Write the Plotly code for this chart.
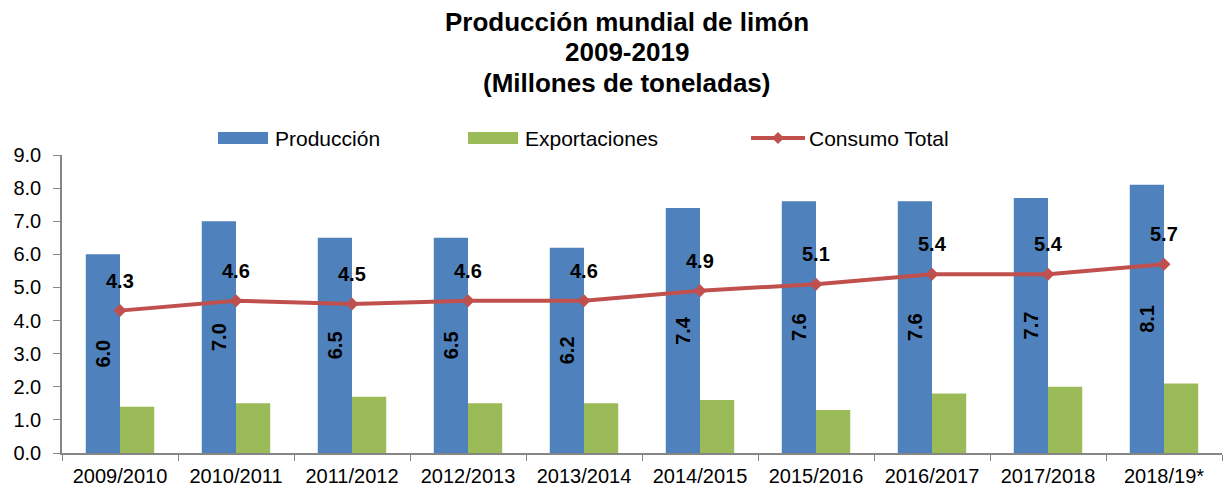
import plotly.graph_objects as go

categories = ["2009/2010", "2010/2011", "2011/2012", "2012/2013", "2013/2014",
              "2014/2015", "2015/2016", "2016/2017", "2017/2018", "2018/19*"]
produccion = [6.0, 7.0, 6.5, 6.5, 6.2, 7.4, 7.6, 7.6, 7.7, 8.1]
exportaciones = [1.4, 1.5, 1.7, 1.5, 1.5, 1.6, 1.3, 1.8, 2.0, 2.1]
consumo = [4.3, 4.6, 4.5, 4.6, 4.6, 4.9, 5.1, 5.4, 5.4, 5.7]
y_ticks = [0, 1, 2, 3, 4, 5, 6, 7, 8, 9]
title_lines = ["Producción mundial de limón", "2009-2019", "(Millones de toneladas)"]

FONT = "Liberation Sans, Arial, sans-serif"
BLUE, GREEN, RED = "#4F81BD", "#9BBB59", "#C0504D"

W, H = 1229, 488
L, R, T, B = 62, 7, 155, 35
PW, PH = W - L - R, H - T - B


def px(x):
    return (x - L) / PW


def py(y):
    return (H - B - y) / PH


fig = go.Figure()
fig.add_trace(go.Bar(
    x=categories, y=produccion, name="Producción",
    marker=dict(color=BLUE, line=dict(width=0)),
    text=[f"{v:.1f}" for v in produccion], textposition="inside",
    textangle=-90, insidetextanchor="middle",
    textfont=dict(family=FONT, size=20, color="black", weight="bold"),
))
fig.add_trace(go.Bar(
    x=categories, y=exportaciones, name="Exportaciones",
    marker=dict(color=GREEN, line=dict(width=0)),
))
fig.add_trace(go.Scatter(
    x=categories, y=consumo, name="Consumo Total", mode="lines+markers",
    line=dict(color=RED, width=4),
    marker=dict(symbol="diamond", size=10, color=RED),
))
for c, v in zip(categories, consumo):
    fig.add_annotation(x=c, y=v, text=f"<b>{v:.1f}</b>", showarrow=False,
                       yshift=30, font=dict(family=FONT, size=20, color="black"))

# Title (three lines)
for line, yc in zip(title_lines, [22, 52.5, 83]):
    fig.add_annotation(
        xref="paper", yref="paper", x=px(627), y=py(yc), xanchor="center", yanchor="middle",
        text=f"<b>{line}</b>", showarrow=False,
        font=dict(family=FONT, size=26, color="black"),
    )

# Legend (drawn manually to mimic long swatches)
legend_y = 138
for (x0, color, label) in [(218, BLUE, "Producción"), (468, GREEN, "Exportaciones")]:
    fig.add_shape(type="rect", xref="paper", yref="paper",
                  x0=px(x0), x1=px(x0 + 50), y0=py(legend_y + 6), y1=py(legend_y - 6),
                  fillcolor=color, line=dict(width=0))
    fig.add_annotation(xref="paper", yref="paper", x=px(x0 + 55), y=py(legend_y),
                       xanchor="left", yanchor="middle", text=label, showarrow=False,
                       font=dict(family=FONT, size=21, color="black"))
fig.add_shape(type="line", xref="paper", yref="paper",
              x0=px(751), x1=px(805), y0=py(legend_y), y1=py(legend_y),
              line=dict(color=RED, width=4))
fig.add_shape(type="path", xref="paper", yref="paper",
              path=f"M {px(772)} {py(legend_y)} L {px(778)} {py(legend_y - 6)} "
                   f"L {px(784)} {py(legend_y)} L {px(778)} {py(legend_y + 6)} Z",
              fillcolor=RED, line=dict(width=0))
fig.add_annotation(xref="paper", yref="paper", x=px(807), y=py(legend_y),
                   xanchor="left", yanchor="middle", text="Consumo Total", showarrow=False,
                   font=dict(family=FONT, size=21, color="black"))

fig.update_layout(
    width=W, height=H,
    paper_bgcolor="white", plot_bgcolor="white",
    margin=dict(l=L, r=R, t=T, b=B, autoexpand=False),
    barmode="group", bargap=0.41, bargroupgap=0,
    font=dict(family=FONT, size=19, color="black"),
    showlegend=False,
)
fig.update_xaxes(
    range=[-0.5, 9.5], automargin=False,
    showline=True, linecolor="#868686", linewidth=1.5,
    ticks="outside", tickson="boundaries", ticklen=6, tickcolor="#868686",
    ticklabelstandoff=4,
    tickfont=dict(family=FONT, size=20), showgrid=False,
)
fig.update_yaxes(
    range=[0, 9], tickvals=y_ticks, ticktext=[f"{v:.1f}" for v in y_ticks],
    automargin=False,
    showline=True, linecolor="#868686", linewidth=1.5,
    ticks="outside", ticklen=7, tickcolor="#868686",
    ticklabelstandoff=8,
    tickfont=dict(family=FONT, size=20), showgrid=False, zeroline=False,
)

fig.write_html("out.html", config={"displayModeBar": False},
               post_script="document.body.style.margin='0';")
